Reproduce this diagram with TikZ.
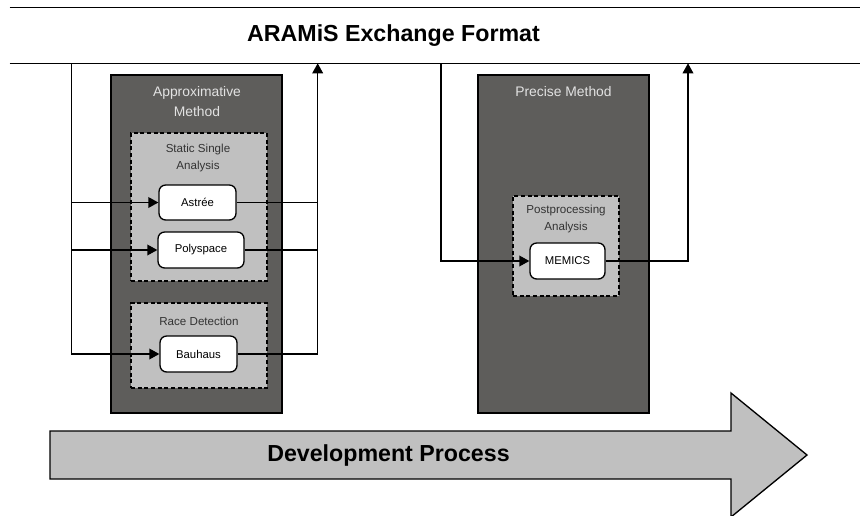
\documentclass[tikz,border=0pt]{standalone}
\usepackage{fontspec}
\setmainfont{Liberation Sans}
\usetikzlibrary{arrows.meta}

\definecolor{methodgray}{HTML}{5E5D5B}
\definecolor{groupgray}{HTML}{C0C0C0}
\definecolor{titlegray}{HTML}{E2E2E2}
\newcommand\pxu{0.75pt}

\begin{document}
\begin{tikzpicture}[x=0.75pt,y=-0.75pt,
    method/.style={draw,line width=1pt,fill=methodgray,minimum width=171*\pxu,minimum height=338*\pxu,inner sep=0pt},
    group/.style={draw,line width=1pt,fill=groupgray,dash pattern=on 3pt off 2pt,inner sep=0pt},
    tool/.style={draw,line width=1pt,fill=white,rounded corners=5pt,inner sep=0pt,font=\fontsize{8.5}{10}\selectfont},
    mtitle/.style={text=titlegray,align=center,inner sep=0pt,font=\fontsize{10.4}{15}\selectfont},
    gtitle/.style={text=black!80,align=center,inner sep=0pt,font=\fontsize{8.7}{12.75}\selectfont},
    headline/.style={inner sep=0pt,font=\bfseries\fontsize{17.4}{20}\selectfont},
    flow/.style={line width=1pt,-{Triangle[length=7.5pt,width=8pt]}},
    link/.style={line width=1pt}]
    \useasboundingbox (0,0) rectangle (860,515);

    % exchange format band
    \node[minimum width=850*\pxu,minimum height=55.6*\pxu,inner sep=0pt] (fmt) at (435,35.5) {};
    \draw[link] (fmt.north west) -- (fmt.north east);
    \draw[link] (fmt.south west) -- (fmt.south east);
    \node[headline] (fmttitle) at (393.5,35.5) {ARAMiS Exchange Format};

    % method boxes
    \node[method] (approx) at (196.5,244) {};
    \node[method] (precise) at (563.5,244) {};
    \node[mtitle] (approxtitle) at (197,102) {Approximative\\Method};
    \node[mtitle] (precisetitle) at (563.5,92) {Precise Method};

    % analysis groups
    \def \Groups {
      static/199/207/136/148,
      race/199/345.5/136/85,
      post/566/246/106/100}
    \foreach \id / \x / \y / \w / \h in \Groups {
      \node[group,minimum width=\w*\pxu,minimum height=\h*\pxu] (\id) at (\x,\y) {};
    }
    \node[gtitle] (statictitle) at (198,157.5) {Static Single\\Analysis};
    \node[gtitle] (racetitle) at (199,321) {Race Detection};
    \node[gtitle] (posttitle) at (566,218.5) {Postprocessing\\Analysis};

    % tools
    \def \Tools {
      astree/197.5/202.5/77/35/Astrée,
      poly/201/250/86/36/Polyspace,
      bauhaus/198.5/354/77/36/Bauhaus,
      memics/567.5/261/75/36/MEMICS}
    \foreach \id / \x / \y / \w / \h / \txt in \Tools {
      \node[tool,minimum width=\w*\pxu,minimum height=\h*\pxu] (\id) at (\x,\y) {\txt};
    }

    % connections to the exchange format
    \coordinate (inA) at (71.5,63.3);
    \coordinate (outA) at (317.7,63.3);
    \coordinate (inP) at (441,63.3);
    \coordinate (outP) at (688,63.3);

    \draw[flow] (inA) |- (bauhaus.west);
    \draw[flow] (inA |- astree) -- (astree.west);
    \draw[flow] (inA |- poly) -- (poly.west);
    \draw[link] (astree.east) -- (outA |- astree);
    \draw[link] (poly.east) -- (outA |- poly);
    \draw[flow] (bauhaus.east) -| (outA);
    \draw[flow] (inP) |- (memics.west);
    \draw[flow] (memics.east) -| (outP);

    % development process arrow
    \draw[line width=1pt,fill=groupgray,line join=miter]
      (50,431) -- (731,431) -- (731,393) -- (807,455) -- (731,517) -- (731,479) -- (50,479) -- cycle;
    \node[headline] (process) at (388.5,455) {Development Process};
  \end{tikzpicture}
\end{document}
